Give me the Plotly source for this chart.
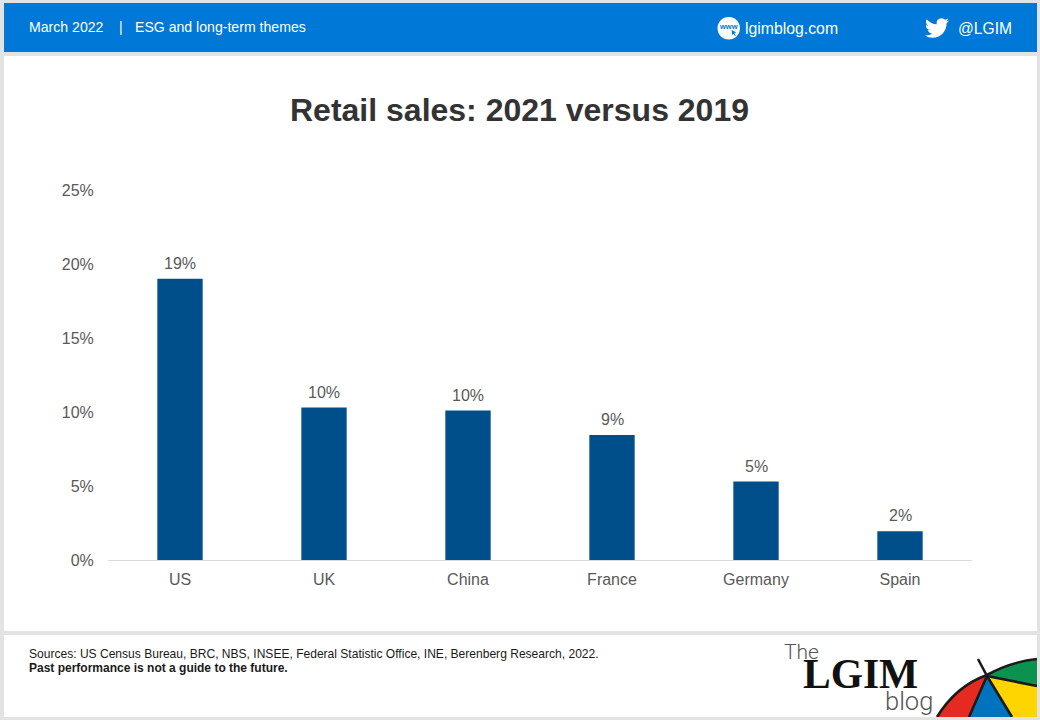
import base64
import plotly.graph_objects as go

categories = ["US", "UK", "China", "France", "Germany", "Spain"]
values = [19.0, 10.3, 10.1, 8.45, 5.3, 1.95]
value_labels = ["19%", "10%", "10%", "9%", "5%", "2%"]
y_ticks = [0, 5, 10, 15, 20, 25]
y_tick_labels = ["0%", "5%", "10%", "15%", "20%", "25%"]

W, H = 1040, 720
SANS = "Liberation Sans, Arial, sans-serif"
BLUE = "#0078d7"
BAR = "#004f8b"
GREY = "#595959"


def X(px):
    return px / W


def Y(py):
    return 1 - py / H


def rect(x0, y0, x1, y1, color):
    return dict(type="rect", xref="paper", yref="paper", x0=X(x0), x1=X(x1),
                y0=Y(y1), y1=Y(y0), fillcolor=color, line_width=0, layer="below")


def label(px, py, text, size, color, anchor="left", family=SANS, bold=False, weight=None):
    font = dict(family=family, size=size, color=color)
    if weight:
        font["weight"] = weight
    return dict(xref="paper", yref="paper", x=X(px), y=Y(py), text=f"<b>{text}</b>" if bold else text,
                showarrow=False, xanchor=anchor, yanchor="middle", align=anchor, borderpad=0, borderwidth=0,
                font=font)


def svg_image(svg, x0, y0, x1, y1):
    uri = "data:image/svg+xml;base64," + base64.b64encode(svg.encode()).decode()
    return dict(source=uri, xref="paper", yref="paper", x=X(x0), y=Y(y0),
                sizex=X(x1 - x0), sizey=(y1 - y0) / H, xanchor="left", yanchor="top",
                sizing="stretch", layer="above")


BIRD = ('<svg xmlns="http://www.w3.org/2000/svg" viewBox="0 0 24 24" width="96" height="96">'
        '<path fill="white" d="M23.953 4.57a10 10 0 01-2.825.775 4.958 4.958 0 002.163-2.723'
        'c-.951.555-2.005.959-3.127 1.184a4.92 4.92 0 00-8.384 4.482C7.69 8.095 4.067 6.13 1.64 3.162'
        'a4.822 4.822 0 00-.666 2.475c0 1.71.87 3.213 2.188 4.096a4.904 4.904 0 01-2.228-.616v.06'
        'a4.923 4.923 0 003.946 4.827 4.996 4.996 0 01-2.212.085 4.936 4.936 0 004.604 3.417'
        ' 9.867 9.867 0 01-6.102 2.105c-.39 0-.779-.023-1.17-.067a13.995 13.995 0 007.557 2.209'
        'c9.053 0 13.998-7.496 13.998-13.985 0-.21 0-.42-.015-.63A9.935 9.935 0 0024 4.59z"/></svg>')

CURSOR = ('<svg xmlns="http://www.w3.org/2000/svg" viewBox="0 0 10 10" width="40" height="40">'
          '<path fill="#0078d7" d="M1 0 L9 4 L5.6 5.2 L8 9 L6.6 10 L4.2 6.2 L2 8.6 Z"/></svg>')

UMBRELLA = ('<svg xmlns="http://www.w3.org/2000/svg" viewBox="0 0 107 67" width="428" height="268">'
            '<path fill="#0b9150" d="M57 25 Q80 12 107 9 L107 36 Z"/>'
            '<path fill="#ffd500" d="M57 26 L107 36 L107 67 L82 67 Z"/>'
            '<path fill="#0073bf" d="M57 26 L39 67 L82 67 Z"/>'
            '<path fill="#e52a21" d="M57 25 Q26 36 7 67 L39 67 Z"/>'
            '<g fill="none" stroke="#1a1a1a" stroke-width="2.6">'
            '<path d="M7 67 Q26 36 57 25 Q80 12 107 9"/>'
            '<path d="M48 9 L57 26"/>'
            '<path d="M57 26 L39 67"/>'
            '<path d="M57 26 L82 67"/>'
            '<path d="M57 26 L107 36"/>'
            '</g></svg>')

value_annotations = [
    dict(x=c, y=v, xref="x", yref="y", text=t, showarrow=False, yanchor="bottom", yshift=6, borderpad=0,
         font=dict(family=SANS, size=16, color=GREY))
    for c, v, t in zip(categories, values, value_labels)
]

fig = go.Figure(go.Bar(
    x=categories, y=values, marker=dict(color=BAR, line_width=0), width=0.315,
))

fig.update_layout(
    width=W, height=H, margin=dict(l=0, r=0, t=0, b=0, pad=0, autoexpand=False), autosize=False,
    paper_bgcolor="#e3e3e3", plot_bgcolor="rgba(0,0,0,0)", showlegend=False,
    font=dict(family=SANS, color=GREY),
    xaxis=dict(domain=[X(108), X(972)], automargin=False, showgrid=False, showline=True, linecolor="#d9d9d9",
               linewidth=1, ticks="outside", ticklen=5, tickcolor="rgba(0,0,0,0)",
               tickfont=dict(size=16, color=GREY)),
    yaxis=dict(domain=[Y(560), Y(190)], automargin=False, range=[0, 25], tickvals=y_ticks, ticktext=y_tick_labels,
               showgrid=False, zeroline=False, showline=False, ticks="outside", ticklen=10,
               tickcolor="rgba(0,0,0,0)", tickfont=dict(size=16, color=GREY)),
    shapes=[
        rect(4, 3, 1037, 52, BLUE),
        rect(4, 56, 1037, 631, "white"),
        rect(4, 635, 1037, 717, "white"),
        dict(type="circle", xref="paper", yref="paper", x0=X(717.5), x1=X(740), y0=Y(39.5), y1=Y(17),
             fillcolor="white", line_width=0, layer="below"),
    ],
    images=[
        svg_image(BIRD, 925, 16, 949, 40),
        svg_image(CURSOR, 731, 30, 737, 36),
        svg_image(UMBRELLA, 930, 650, 1037, 717),
    ],
    annotations=value_annotations + [
        label(519.5, 110, "Retail sales: 2021 versus 2019", 32, "#333333", "center", bold=True),
        label(29, 27.5, "March 2022", 14.1, "white"),
        label(119, 27.5, "|", 14, "white"),
        label(135, 27.5, "ESG and long-term themes", 14.1, "white"),
        label(728.5, 27, "www", 7.5, BLUE, "center", bold=True),
        label(745, 28.5, "lgimblog.com", 15.8, "white"),
        label(958, 28.5, "@LGIM", 15.6, "white"),
        label(29, 653.5, "Sources: US Census Bureau, BRC, NBS, INSEE, Federal Statistic Office, INE, Berenberg Research, 2022.",
              12.06, "#1a1a1a"),
        label(29, 668, "Past performance is not a guide to the future.", 12, "#1a1a1a", bold=True),
        label(784, 652, "The", 21, "#555555", family="Roboto, sans-serif", weight=300),
        label(803, 674, "LGIM", 41.5, "#111111", family="Liberation Serif, serif", bold=True),
        label(885, 701, "blog", 25.5, "#555555", family="Roboto, sans-serif", weight=300),
    ],
)

fig.write_html("out.html", config=dict(displayModeBar=False), post_script="document.body.style.margin='0';")
